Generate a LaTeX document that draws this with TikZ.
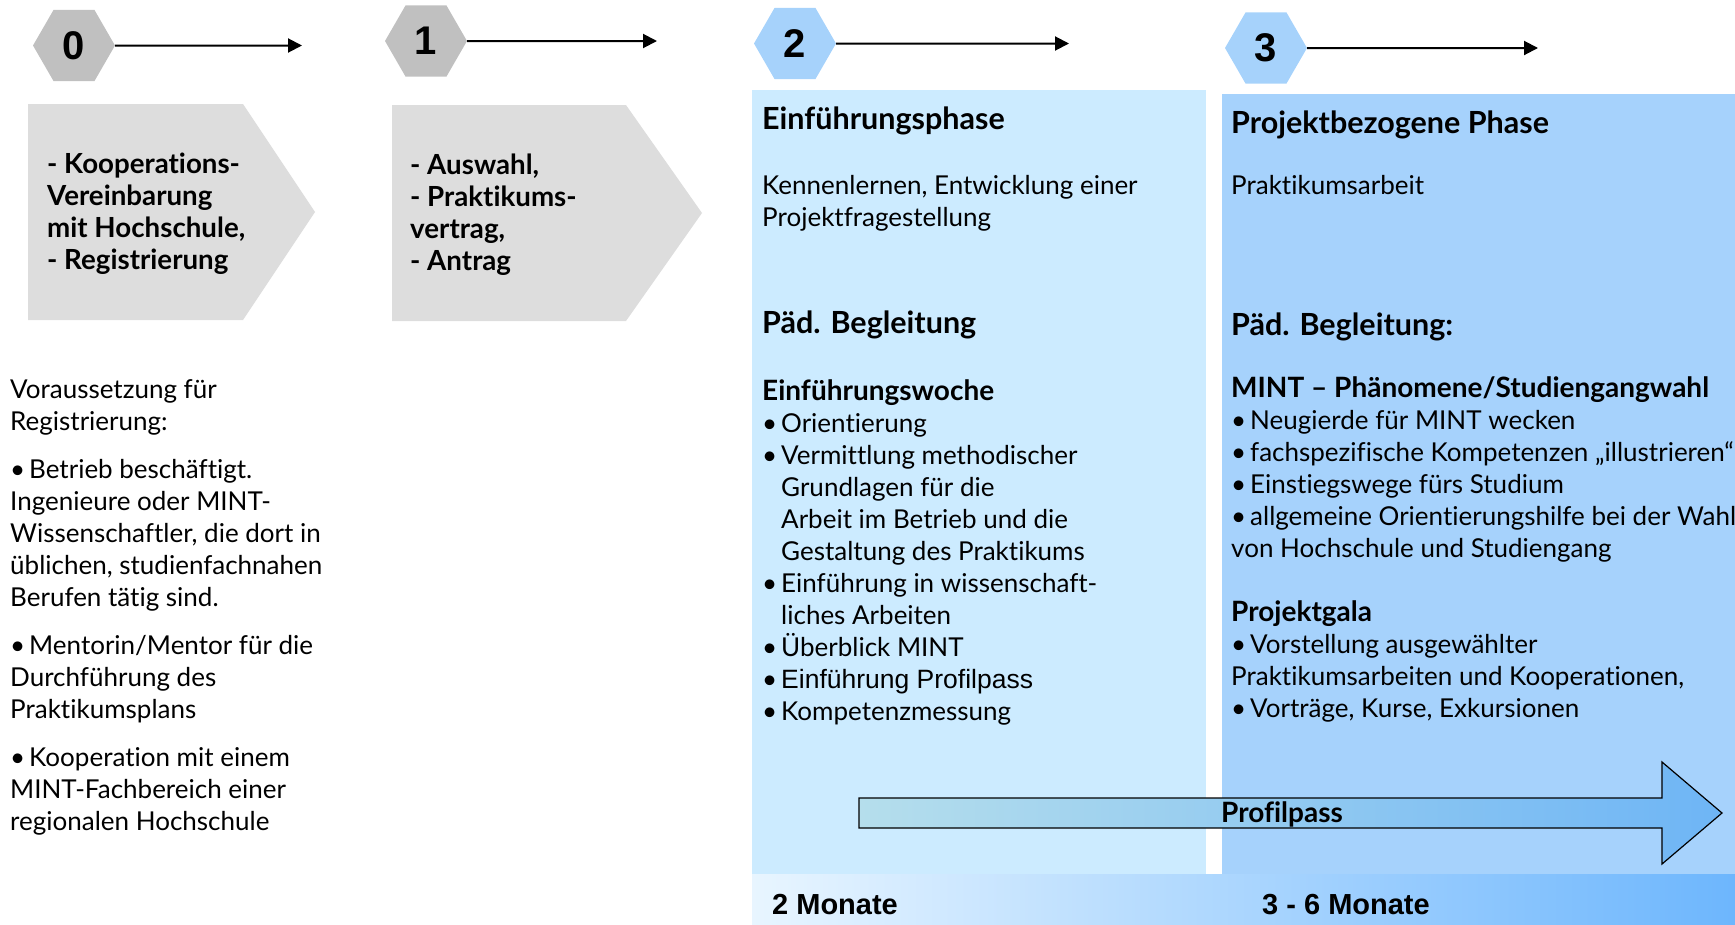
\documentclass[tikz,border=0pt]{standalone}
\usepackage{fontspec}
\setmainfont{Lato}[Ligatures=NoCommon]
\newfontfamily\arialfont{Liberation Sans}
\usetikzlibrary{arrows.meta,shapes.geometric}
\definecolor{hexgray}{HTML}{C0C0C0}
\definecolor{hexblue}{HTML}{A6D2FB}
\definecolor{boxgray}{HTML}{DDDDDD}
\definecolor{paneltwo}{HTML}{CCEBFF}
\definecolor{panelthree}{HTML}{A6D2FC}
\definecolor{bandL}{HTML}{E8F5FF}
\definecolor{bandR}{HTML}{6DB6FD}
\definecolor{ppL}{HTML}{B5DEEC}
\definecolor{ppR}{HTML}{6EB5F5}
\newcommand{\myTopStrut}{\rule{0pt}{30pt}}
\newcommand{\bul}{\makebox[19pt][l]{•}}
\newcommand{\ind}{\hspace*{19pt}}
\newcommand{\mySub}[1]{{\fontsize{28}{32}\selectfont\bfseries #1}}
\begin{document}
\begin{tikzpicture}[x=1pt,y=-1pt,
  hexbase/.style={regular polygon, regular polygon sides=6, minimum size=82pt, inner sep=0pt, draw=none, font=\arialfont\bfseries\fontsize{40}{40}\selectfont},
  hexgrey/.style={hexbase, fill=hexgray},
  hexblu/.style={hexbase, fill=hexblue},
  steparrow/.style={draw=black, line width=2pt, -{Triangle[length=14pt,width=14pt]}},
  body/.style={anchor=north west, inner sep=0pt, align=left, font=\fontsize{26}{32}\selectfont},
  boxtext/.style={body, font=\bfseries\fontsize{27.7}{32}\selectfont},
  headtext/.style={body, font=\bfseries\fontsize{30.5}{32}\selectfont},
  monthtext/.style={anchor=base west, inner sep=0pt, font=\arialfont\bfseries\fontsize{29}{29}\selectfont},
  ppbox/.style={draw=black, line width=1.2pt, left color=ppL, right color=ppR}
]
\useasboundingbox (0,0) rectangle (1735,924);
\clip (0,0) rectangle (1735,924);

% panels
\fill[paneltwo] (752,90) rectangle (1206,874);
\fill[panelthree] (1222,94) rectangle (1735,874);
\shade[left color=bandL, right color=bandR] (752,874) rectangle (1735,924);

% grey boxes
\fill[boxgray] (28,104) -- (243,104) -- (315,212) -- (243,320) -- (28,320) -- cycle;
\fill[boxgray] (392,105) -- (626,105) -- (702,213) -- (626,321) -- (392,321) -- cycle;

% hexagons and arrows
\node[hexgrey] (h0) at (74,45.5) {0};
\node[hexgrey] (h1) at (426,41) {1};
\node[hexblu] (h2) at (795,43.5) {2};
\node[hexblu] (h3) at (1266,48) {3};
\coordinate (e0) at (302,45.5);
\coordinate (e1) at (657,41);
\coordinate (e2) at (1069,43.5);
\coordinate (e3) at (1538,48);
\draw[steparrow] (h0.east) -- (e0);
\draw[steparrow] (h1.east) -- (e1);
\draw[steparrow] (h2.east) -- (e2);
\draw[steparrow] (h3.east) -- (e3);

% box texts
\node[boxtext] (b0t) at (47,143) {\myTopStrut - Kooperations-\\Vereinbarung\\mit Hochschule,\\- Registrierung};
\node[boxtext] (b1t) at (410,144) {\myTopStrut - Auswahl,\\- Praktikums-\\vertrag,\\- Antrag};

% left requirements
\node[body] (req) at (10,368) {\myTopStrut Voraussetzung für\\Registrierung:\\[16pt]
\bul Betrieb beschäftigt.\\Ingenieure oder MINT-\\Wissenschaftler, die dort in\\üblichen, studienfachnahen\\Berufen tätig sind.\\[16pt]
\bul Mentorin/Mentor für die\\Durchführung des\\Praktikumsplans\\[16pt]
\bul Kooperation mit einem\\MINT-Fachbereich einer\\regionalen Hochschule};

% panel 2
\node[headtext] (p2h) at (762,99) {\myTopStrut Einführungsphase};
\node[body] (p2a) at (762,164) {\myTopStrut Kennenlernen, Entwicklung einer\\Projektfragestellung};
\node[headtext] (p2b) at (762,303) {\myTopStrut Päd. Begleitung};
\node[body] (p2l) at (762,370) {\myTopStrut\mySub{Einführungswoche}\\
\bul Orientierung\\
\bul Vermittlung methodischer\\
\ind Grundlagen für die\\
\ind Arbeit im Betrieb und die\\
\ind Gestaltung des Praktikums\\
\bul Einführung in wissenschaft-\\
\ind liches Arbeiten\\
\bul Überblick MINT\\
\bul {\arialfont\fontsize{26.5}{32}\selectfont Einführung Profilpass}\\
\bul Kompetenzmessung};

% panel 3
\node[headtext] (p3h) at (1231,103) {\myTopStrut Projektbezogene Phase};
\node[body] (p3a) at (1231,164) {\myTopStrut Praktikumsarbeit};
\node[headtext] (p3b) at (1231,305) {\myTopStrut Päd. Begleitung:};
\node[body] (p3l) at (1231,367) {\myTopStrut\mySub{MINT – Phänomene/Studiengangwahl}\\
\bul Neugierde für MINT wecken\\
\bul fachspezifische Kompetenzen „illustrieren“\\
\bul Einstiegswege fürs Studium\\
\bul allgemeine Orientierungshilfe bei der Wahl\\
von Hochschule und Studiengang\\[32pt]
\mySub{Projektgala}\\
\bul Vorstellung ausgewählter\\
Praktikumsarbeiten und Kooperationen,\\
\bul Vorträge, Kurse, Exkursionen};

% Profilpass arrow
\path[ppbox] (859,798) -- (1662,798) -- (1662,762) -- (1722,813) -- (1662,864) -- (1662,828) -- (859,828) -- cycle;
\node[anchor=base, inner sep=0pt, font=\bfseries\fontsize{28}{28}\selectfont] (pp) at (1282,822) {Profilpass};

% months
\node[monthtext] (m2) at (772,914) {2 Monate};
\node[monthtext] (m36) at (1262,914) {3 - 6 Monate};
\end{tikzpicture}
\end{document}
